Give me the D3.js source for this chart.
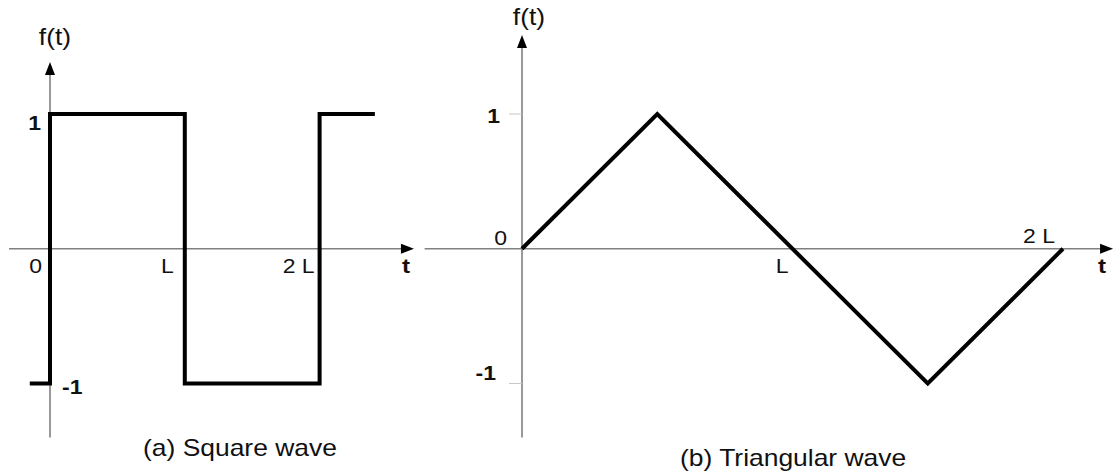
<!DOCTYPE html>
<html>
<head>
<meta charset="utf-8">
<script src="https://cdn.jsdelivr.net/npm/d3@7"></script>
<style>
  html, body { margin: 0; padding: 0; background: #fff; }
  svg { display: block; font-family: "Liberation Sans", Arial, sans-serif; }
</style>
</head>
<body>
<svg id="chart" width="1117" height="476"></svg>
<script>
// Square wave: one and a bit periods, t in units of L
const squareT = [-0.15, 0, 0, 1, 1, 2, 2, 2.41];
const squareF = [-1, -1, 1, 1, -1, -1, 1, 1];

// Triangular wave over one period [0, 2L]
const triT = [0, 0.5, 1.5, 2];
const triF = [0, 1, -1, 0];

// Tick labels
const xTickLabels = [{ t: 0, text: "0" }, { t: 1, text: "L" }, { t: 2, text: "2 L" }];
const yTickLabels = [{ f: 1, text: "1" }, { f: -1, text: "-1" }];

const svg = d3.select("#chart");

const AXIS = "#808080";
const WAVE = "#000";
const STRETCH = 1.15; // glyphs are drawn slightly wide

function label(g, text, x, y, size, anchor, bold) {
  return g.append("text").text(text)
    .attr("transform", `translate(${x},${y}) scale(${STRETCH},1)`)
    .attr("text-anchor", anchor || "start")
    .attr("font-size", size)
    .attr("font-weight", bold ? "bold" : "normal")
    .attr("fill", "#111");
}

function arrowHead(g, x, y, dir) {
  // small filled triangle pointing right ("r") or up ("u")
  const p = dir === "r"
    ? [[x, y], [x - 13, y - 5], [x - 13, y + 5]]
    : [[x, y], [x - 5, y + 13], [x + 5, y + 13]];
  g.append("path").attr("d", d3.line()(p) + "Z").attr("fill", "#000");
}

function panel(cfg) {
  const g = svg.append("g");
  const x = d3.scaleLinear().domain([0, 2]).range(cfg.xRange);
  const y = d3.scaleLinear().domain([-1, 1]).range([383.5, 114]);

  // horizontal axis
  g.append("line")
    .attr("x1", x(cfg.xAxis[0])).attr("x2", x(cfg.xAxis[1]) - 6)
    .attr("y1", y(0)).attr("y2", y(0))
    .attr("stroke", AXIS).attr("stroke-width", 1.6);
  arrowHead(g, x(cfg.xAxis[1]), y(0), "r");

  // vertical axis
  g.append("line")
    .attr("x1", x(0)).attr("x2", x(0))
    .attr("y1", y(cfg.yAxis[0])).attr("y2", y(cfg.yAxis[1]) + 6)
    .attr("stroke", AXIS).attr("stroke-width", 1.6);
  arrowHead(g, x(0), y(cfg.yAxis[1]), "u");

  // small ticks at ±1
  if (cfg.ticks) {
    yTickLabels.forEach(d => {
      g.append("line")
        .attr("x1", x(0) - 13).attr("x2", x(0))
        .attr("y1", y(d.f)).attr("y2", y(d.f))
        .attr("stroke", "#c8c8c8").attr("stroke-width", 1);
    });
  }

  // waveform
  const line = d3.line().x(d => x(d[0])).y(d => y(d[1]));
  g.append("path")
    .attr("d", line(d3.zip(cfg.t, cfg.f)))
    .attr("fill", "none")
    .attr("stroke", WAVE)
    .attr("stroke-width", 4)
    .attr("stroke-linejoin", "miter")
    .attr("stroke-linecap", "butt");

  // axis names
  label(g, "f(t)", x(0) + cfg.fOff[0], cfg.fOff[1], 23, "middle");
  label(g, "t", x(cfg.xAxis[1]) + cfg.tOff, y(0) + 24, 21, "start", true);

  // tick labels along t
  xTickLabels.forEach((d, i) => {
    const o = cfg.xLab[i];
    label(g, d.text, x(d.t) + o[0], y(0) + o[1], 20, "end");
  });

  // tick labels along f
  yTickLabels.forEach((d, i) => {
    const o = cfg.yLab[i];
    label(g, d.text, x(0) + o[0], y(d.f) + o[1], 20, o[2], true);
  });

  // caption
  label(g, cfg.caption, cfg.cap[0], cfg.cap[1], 23, "start");
}

panel({
  xRange: [50, 319.6],
  xAxis: [-0.304, 2.70],
  yAxis: [-1.40, 1.386],
  t: squareT, f: squareF,
  ticks: false,
  fOff: [5, 45],
  tOff: -12,
  xLab: [[-8, 24], [-11, 24], [-5, 24]],
  yLab: [[-9, 16, "end"], [12, 10, "start"]],
  caption: "(a) Square wave",
  cap: [143, 456]
});

panel({
  xRange: [522, 1063],
  xAxis: [-0.36, 2.185],
  yAxis: [-1.40, 1.586],
  t: triT, f: triF,
  ticks: true,
  fOff: [7, 25],
  tOff: -15,
  xLab: [[-15, -4], [-4, 24], [-8, -6]],
  yLab: [[-22, 9, "end"], [-26, -4, "end"]],
  caption: "(b) Triangular wave",
  cap: [680, 466]
});
</script>
</body>
</html>
